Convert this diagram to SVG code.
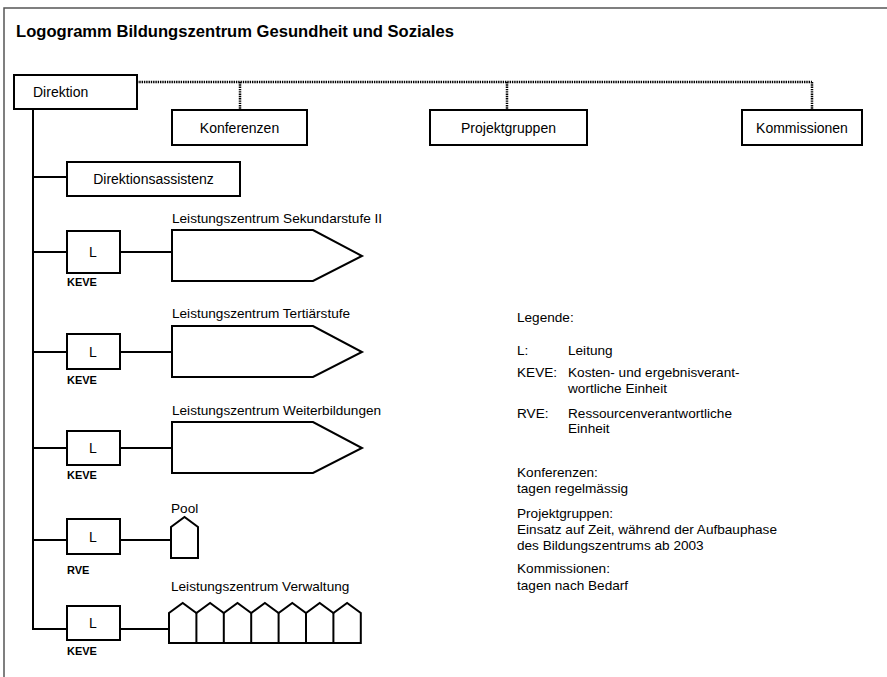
<svg xmlns="http://www.w3.org/2000/svg" width="887" height="677" viewBox="0 0 887 677">
<style>
  text { font-family: "Liberation Sans", Arial, sans-serif; fill: #000; }
  .title { font-size: 16.6px; font-weight: bold; }
  .node { font-size: 14px; }
  .lbl { font-size: 13.6px; }
  .small { font-size: 11px; font-weight: bold; }
  .box { fill: #fff; stroke: #000; stroke-width: 2; }
  .line { fill: none; stroke: #000; stroke-width: 2; }
  .dot { fill: none; stroke: #000; stroke-width: 2.5; stroke-dasharray: 1.4 0.9; }
  .frame { fill: none; stroke: #555; stroke-width: 1.5; }
</style>
<rect x="0" y="0" width="887" height="677" fill="#fff"/>
<path class="frame" d="M4,677 V8 H887"/>
<text class="title" x="16" y="37">Logogramm Bildungszentrum Gesundheit und Soziales</text>

<g id="connectors">
  <path class="dot" d="M137,82 H812 M240,82 V109 M507,82 V109 M812,82 V109"/>
  <path class="line" d="M33,109 V629 H67"/>
  <path class="line" d="M33,177 H67"/>
  <path class="line" d="M33,252 H67 M120,252 H172"/>
  <path class="line" d="M33,352 H67 M120,352 H172"/>
  <path class="line" d="M33,448 H67 M120,448 H172"/>
  <path class="line" d="M33,540 H67 M120,540 H171"/>
  <path class="line" d="M120,629 H172"/>
</g>

<g id="direktion">
  <rect class="box" x="14" y="75" width="123" height="34"/>
  <text class="node" x="33" y="97">Direktion</text>
</g>
<g id="konferenzen">
  <rect class="box" x="172" y="110" width="135" height="35"/>
  <text class="node" x="239.5" y="133" text-anchor="middle">Konferenzen</text>
</g>
<g id="projektgruppen">
  <rect class="box" x="430" y="110" width="157" height="35"/>
  <text class="node" x="508.5" y="133" text-anchor="middle">Projektgruppen</text>
</g>
<g id="kommissionen">
  <rect class="box" x="742" y="110" width="120" height="35"/>
  <text class="node" x="802" y="133" text-anchor="middle">Kommissionen</text>
</g>
<g id="direktionsassistenz">
  <rect class="box" x="67" y="162" width="173" height="34"/>
  <text class="node" x="153.5" y="184" text-anchor="middle">Direktionsassistenz</text>
</g>

<g id="row-sekundarstufe">
  <rect class="box" x="67" y="231" width="53" height="42"/>
  <text class="node" x="93" y="257" text-anchor="middle">L</text>
  <text class="small" x="67" y="286">KEVE</text>
  <polygon class="box" points="172,230 313,230 362,256 313,281 172,281"/>
  <text class="lbl" x="172" y="223">Leistungszentrum Sekundarstufe II</text>
</g>
<g id="row-tertiaerstufe">
  <rect class="box" x="67" y="334" width="53" height="35"/>
  <text class="node" x="93" y="357" text-anchor="middle">L</text>
  <text class="small" x="67" y="384">KEVE</text>
  <polygon class="box" points="172,326 313,326 362,352 313,377 172,377"/>
  <text class="lbl" x="172" y="318">Leistungszentrum Tertiärstufe</text>
</g>
<g id="row-weiterbildungen">
  <rect class="box" x="67" y="431" width="53" height="34"/>
  <text class="node" x="93" y="453" text-anchor="middle">L</text>
  <text class="small" x="67" y="479">KEVE</text>
  <polygon class="box" points="172,422 313,422 362,448 313,473 172,473"/>
  <text class="lbl" x="172" y="415">Leistungszentrum Weiterbildungen</text>
</g>
<g id="row-pool">
  <rect class="box" x="67" y="519" width="53" height="35"/>
  <text class="node" x="93" y="542" text-anchor="middle">L</text>
  <text class="small" x="67" y="574">RVE</text>
  <polygon class="box" points="171,558 171,527 184.5,517 198,527 198,558"/>
  <text class="lbl" x="171" y="513">Pool</text>
</g>
<g id="row-verwaltung">
  <rect class="box" x="67" y="606" width="53" height="34"/>
  <text class="node" x="93" y="628" text-anchor="middle">L</text>
  <text class="small" x="67" y="655">KEVE</text>
  <path class="box" d="M169,643 H360.8 V613 L347.1,603 L333.4,613 L319.7,603 L306,613 L292.3,603 L278.6,613 L264.9,603 L251.2,613 L237.5,603 L223.8,613 L210.1,603 L196.4,613 L182.7,603 L169,613 Z"/>
  <path class="line" d="M196.4,613 V643 M223.8,613 V643 M251.2,613 V643 M278.6,613 V643 M306,613 V643 M333.4,613 V643"/>
  <text class="lbl" x="171" y="591">Leistungszentrum Verwaltung</text>
</g>

<g id="legende">
  <text class="lbl" x="517" y="322">Legende:</text>
  <text class="lbl" x="517" y="355">L:</text>
  <text class="lbl" x="568" y="355">Leitung</text>
  <text class="lbl" x="517" y="377">KEVE:</text>
  <text class="lbl" x="568" y="377">Kosten- und ergebnisverant-</text>
  <text class="lbl" x="568" y="393">wortliche Einheit</text>
  <text class="lbl" x="517" y="418">RVE:</text>
  <text class="lbl" x="568" y="418">Ressourcenverantwortliche</text>
  <text class="lbl" x="568" y="433">Einheit</text>
  <text class="lbl" x="517" y="477">Konferenzen:</text>
  <text class="lbl" x="517" y="493">tagen regelmässig</text>
  <text class="lbl" x="517" y="518">Projektgruppen:</text>
  <text class="lbl" x="517" y="534">Einsatz auf Zeit, während der Aufbauphase</text>
  <text class="lbl" x="517" y="550">des Bildungszentrums ab 2003</text>
  <text class="lbl" x="517" y="573">Kommissionen:</text>
  <text class="lbl" x="517" y="590">tagen nach Bedarf</text>
</g>
</svg>
